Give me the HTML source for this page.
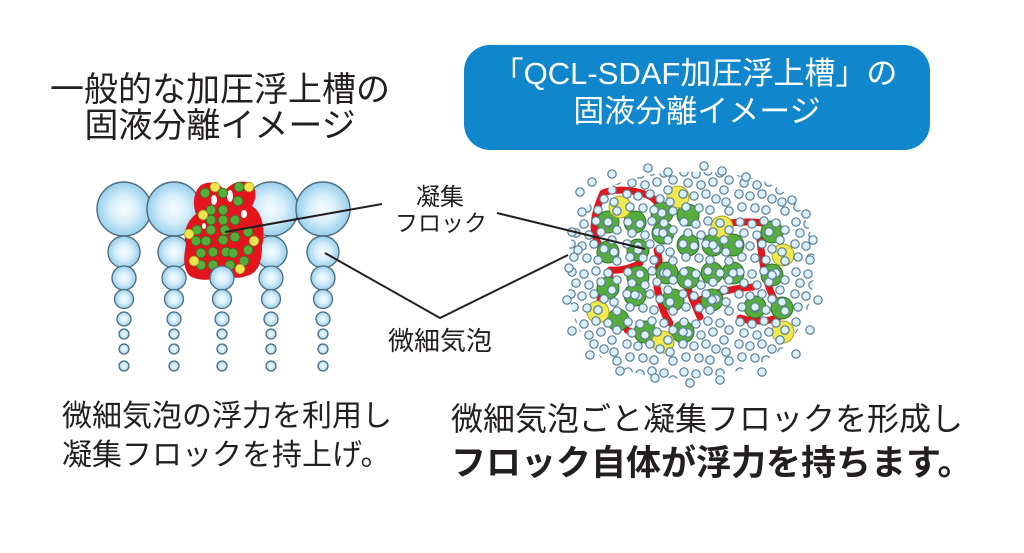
<!DOCTYPE html>
<html><head><meta charset="utf-8"><style>
html,body{margin:0;padding:0;background:#fff;}
svg{display:block;}
text{font-family:"Liberation Sans","Noto Sans CJK JP",sans-serif;}
</style></head><body>
<svg width="1024" height="553" viewBox="0 0 1024 553" xmlns="http://www.w3.org/2000/svg">
<defs>
<radialGradient id="bg" cx="0.5" cy="0.5" r="0.5">
<stop offset="0" stop-color="#f6fcff"/>
<stop offset="0.5" stop-color="#d6eefa"/>
<stop offset="1" stop-color="#97cfec"/>
</radialGradient>
<pattern id="pb" width="56" height="50" patternUnits="userSpaceOnUse" x="566" y="166">
<g fill="#dcf0fa" stroke="#5a7d92" stroke-width="1.2">
<circle cx="6" cy="6" r="4.2"/><circle cx="18" cy="8" r="4.2"/><circle cx="30" cy="5" r="4.2"/><circle cx="42" cy="7" r="4.2"/><circle cx="51" cy="14" r="4.2"/>
<circle cx="10" cy="17" r="4.2"/><circle cx="23" cy="19" r="4.2"/><circle cx="35" cy="16" r="4.2"/><circle cx="46" cy="24" r="4.2"/>
<circle cx="5" cy="28" r="4.2"/><circle cx="16" cy="30" r="4.2"/><circle cx="28" cy="28" r="4.2"/><circle cx="38" cy="33" r="4.2"/>
<circle cx="8" cy="41" r="4.2"/><circle cx="21" cy="42" r="4.2"/><circle cx="32" cy="44" r="4.2"/><circle cx="48" cy="36" r="4.2"/><circle cx="51" cy="45" r="4.2"/>
</g>
</pattern>
</defs>

<!-- Left title -->
<text x="220" y="101" font-size="34" text-anchor="middle" fill="#231f20">一般的な加圧浮上槽の</text>
<text x="220" y="137" font-size="34" text-anchor="middle" fill="#231f20">固液分離イメージ</text>

<!-- Blue box -->
<rect x="464" y="45" width="466" height="105" rx="26" ry="26" fill="#1087cd"/>
<text x="695" y="84" font-size="31" text-anchor="middle" fill="#fff">「QCL-SDAF加圧浮上槽」の</text>
<text x="697" y="122" font-size="31" text-anchor="middle" fill="#fff">固液分離イメージ</text>

<!-- Left bubble columns -->
<g fill="url(#bg)" stroke="#4e6c7f" stroke-width="1.4">
<circle cx="124" cy="209" r="27"/><circle cx="174" cy="209" r="27"/>
<circle cx="271" cy="209" r="27"/><circle cx="323" cy="209" r="27"/>
<circle cx="124" cy="252" r="16"/><circle cx="174" cy="252" r="16"/>
<circle cx="271" cy="252" r="16"/><circle cx="323" cy="252" r="16"/>
</g>

<!-- Left flock -->
<path d="M200,186 C207,180 222,182 224,192 C228,186 236,180 247,182 C256,184 258,196 252,206 C262,212 266,230 262,246 C262,262 258,274 246,276 C238,280 230,276 224,276 C214,280 200,282 190,276 C182,268 184,255 186,244 C182,232 188,220 196,214 C192,204 194,192 200,186 Z" fill="#e3141c"/>
<g fill="#fff">
<ellipse cx="214" cy="200" rx="3" ry="5"/><ellipse cx="230" cy="196" rx="3" ry="6"/><ellipse cx="244" cy="214" rx="3" ry="4"/><ellipse cx="204" cy="226" rx="2" ry="3"/>
</g>
<g fill="#56ad3c" stroke="#2f7424" stroke-width="0.8">
<circle cx="205" cy="193" r="4.8"/><circle cx="223" cy="193" r="4.8"/><circle cx="239" cy="187" r="4.8"/><circle cx="238" cy="201" r="4.8"/>
<circle cx="211" cy="210" r="4.8"/><circle cx="223" cy="210" r="4.8"/><circle cx="211" cy="220" r="4.8"/><circle cx="223" cy="220" r="4.8"/>
<circle cx="235" cy="220" r="4.8"/><circle cx="197" cy="230" r="4.8"/><circle cx="211" cy="230" r="4.8"/><circle cx="225" cy="230" r="4.8"/>
<circle cx="248" cy="232" r="4.8"/><circle cx="196" cy="241" r="4.8"/><circle cx="206" cy="241" r="4.8"/><circle cx="223" cy="240" r="4.8"/>
<circle cx="235" cy="237" r="4.8"/><circle cx="248" cy="250" r="4.8"/><circle cx="201" cy="253" r="4.8"/><circle cx="213" cy="252" r="4.8"/>
<circle cx="226" cy="252" r="4.8"/><circle cx="233" cy="253" r="4.8"/><circle cx="244" cy="261" r="4.8"/><circle cx="201" cy="265" r="4.8"/>
<circle cx="213" cy="265" r="4.8"/><circle cx="230" cy="265" r="4.8"/>
</g>
<g fill="#eee64c" stroke="#a9a230" stroke-width="0.8">
<circle cx="215" cy="187" r="4.8"/><circle cx="249" cy="187" r="4.8"/><circle cx="203" cy="215" r="4.8"/><circle cx="189" cy="234" r="4.8"/>
<circle cx="254" cy="241" r="4.8"/><circle cx="194" cy="261" r="4.8"/><circle cx="240" cy="269" r="4.8"/>
</g>

<!-- Small bubbles of columns -->
<g fill="url(#bg)" stroke="#4e6c7f" stroke-width="1.3">
<circle cx="124" cy="278" r="12"/><circle cx="174" cy="278" r="12"/><circle cx="222" cy="278" r="12"/><circle cx="271" cy="278" r="12"/><circle cx="323" cy="278" r="12"/>
<circle cx="124" cy="299" r="9.5"/><circle cx="174" cy="299" r="9.5"/><circle cx="222" cy="299" r="9.5"/><circle cx="271" cy="299" r="9.5"/><circle cx="323" cy="299" r="9.5"/>
<circle cx="124" cy="319" r="7"/><circle cx="174" cy="319" r="7"/><circle cx="222" cy="319" r="7"/><circle cx="271" cy="319" r="7"/><circle cx="323" cy="319" r="7"/>
<circle cx="124" cy="334" r="5"/><circle cx="174" cy="334" r="5"/><circle cx="222" cy="334" r="5"/><circle cx="271" cy="334" r="5"/><circle cx="323" cy="334" r="5"/>
<circle cx="124" cy="349" r="5"/><circle cx="174" cy="349" r="5"/><circle cx="222" cy="349" r="5"/><circle cx="271" cy="349" r="5"/><circle cx="323" cy="349" r="5"/>
<circle cx="124" cy="366" r="5"/><circle cx="174" cy="366" r="5"/><circle cx="222" cy="366" r="5"/><circle cx="271" cy="366" r="5"/><circle cx="323" cy="366" r="5"/>
</g>

<!-- Right cluster: red network -->
<g fill="none" stroke="#e3141c" stroke-width="7" stroke-linecap="round" stroke-linejoin="round">
<path d="M598,243 C592,232 593,215 603,193 C615,188 635,190 647,195 C655,198 658,203 660,210"/>
<path d="M657,250 C659,258 660,262 658,268"/>
<path d="M657,287 C660,300 662,312 670,323"/>
<path d="M727,223 C745,222 758,220 777,227"/>
<path d="M760,240 C762,260 765,280 773,297 C776,303 780,307 783,310"/>
<path d="M700,300 C710,295 725,289 753,287"/>
<path d="M610,270 C620,271 632,268 640,263"/>
<path d="M627,330 C638,335 650,338 660,340"/>
<path d="M687,287 C692,298 696,308 700,317"/>
<path d="M740,318 C752,322 765,322 778,318"/>
<path d="M600,300 C605,290 607,282 610,275"/>
</g>

<!-- Right cluster: green & yellow -->
<g fill="#55ae3c" stroke="#2f7424" stroke-width="1">
<circle cx="608" cy="222" r="11"/><circle cx="635" cy="222" r="11"/><circle cx="662" cy="213" r="11"/><circle cx="688" cy="215" r="11"/>
<circle cx="663" cy="233" r="11"/><circle cx="688" cy="245" r="11"/><circle cx="713" cy="245" r="11"/><circle cx="733" cy="245" r="11"/>
<circle cx="772" cy="232" r="11"/><circle cx="608" cy="252" r="11"/><circle cx="638" cy="250" r="11"/><circle cx="638" cy="277" r="11"/>
<circle cx="667" cy="273" r="11"/><circle cx="688" cy="278" r="11"/><circle cx="712" cy="273" r="11"/><circle cx="733" cy="273" r="11"/>
<circle cx="772" cy="275" r="11"/><circle cx="608" cy="288" r="11"/><circle cx="635" cy="295" r="11"/><circle cx="673" cy="300" r="11"/>
<circle cx="712" cy="300" r="11"/><circle cx="755" cy="307" r="11"/><circle cx="782" cy="308" r="11"/><circle cx="618" cy="320" r="11"/>
<circle cx="645" cy="332" r="11"/><circle cx="683" cy="332" r="11"/>
</g>
<g fill="#efe94e" stroke="#aaa330" stroke-width="1">
<circle cx="620" cy="207" r="11"/><circle cx="678" cy="197" r="11"/><circle cx="722" cy="227" r="11"/><circle cx="783" cy="255" r="11"/>
<circle cx="598" cy="312" r="11"/><circle cx="663" cy="342" r="11"/><circle cx="783" cy="332" r="11"/>
</g>

<!-- Right cluster: micro bubbles (pattern) -->
<path d="M600,195 C620,172 700,164 760,180 C800,192 818,230 814,275 C811,320 790,358 740,370 C700,383 640,383 605,360 C572,340 564,290 569,250 C573,225 585,205 600,195 Z" fill="url(#pb)"/>
<g fill="#dcf0fa" stroke="#5a7d92" stroke-width="1.2">
<circle cx="608" cy="222" r="4.2"/><circle cx="662" cy="213" r="4.2"/><circle cx="663" cy="233" r="4.2"/><circle cx="713" cy="245" r="4.2"/>
<circle cx="638" cy="250" r="4.2"/><circle cx="667" cy="273" r="4.2"/><circle cx="733" cy="273" r="4.2"/><circle cx="772" cy="275" r="4.2"/>
<circle cx="635" cy="295" r="4.2"/><circle cx="712" cy="300" r="4.2"/><circle cx="755" cy="307" r="4.2"/><circle cx="683" cy="332" r="4.2"/>
<circle cx="580" cy="192" r="4.2"/><circle cx="592" cy="182" r="4.2"/><circle cx="612" cy="174" r="4.2"/><circle cx="648" cy="168" r="4.2"/>
<circle cx="668" cy="172" r="4.2"/><circle cx="704" cy="166" r="4.2"/><circle cx="722" cy="171" r="4.2"/><circle cx="746" cy="177" r="4.2"/>
<circle cx="792" cy="200" r="4.2"/><circle cx="806" cy="214" r="4.2"/><circle cx="813" cy="240" r="4.2"/><circle cx="818" cy="300" r="4.2"/>
<circle cx="810" cy="330" r="4.2"/><circle cx="796" cy="354" r="4.2"/><circle cx="762" cy="372" r="4.2"/><circle cx="720" cy="380" r="4.2"/>
<circle cx="690" cy="383" r="4.2"/><circle cx="655" cy="378" r="4.2"/><circle cx="620" cy="371" r="4.2"/><circle cx="590" cy="355" r="4.2"/>
<circle cx="572" cy="331" r="4.2"/><circle cx="567" cy="300" r="4.2"/><circle cx="569" cy="268" r="4.2"/><circle cx="572" cy="232" r="4.2"/>
<circle cx="582" cy="212" r="4.2"/><circle cx="578" cy="250" r="4.2"/><circle cx="810" cy="260" r="4.2"/>
</g>

<!-- Connector lines -->
<g fill="none" stroke="#231f20" stroke-width="2">
<line x1="225" y1="232" x2="382" y2="204"/>
<line x1="497" y1="213" x2="645" y2="249"/>
<polyline points="325,253 440,318 568,255"/>
</g>

<!-- Labels -->
<text x="440" y="205" font-size="24" text-anchor="middle" fill="#231f20">凝集</text>
<text x="441" y="231" font-size="23" text-anchor="middle" fill="#231f20">フロック</text>
<text x="440" y="350" font-size="26" text-anchor="middle" fill="#231f20">微細気泡</text>

<!-- Bottom texts -->
<text x="62" y="426" font-size="30" fill="#231f20">微細気泡の浮力を利用し</text>
<text x="62" y="465" font-size="30" fill="#231f20">凝集フロックを持上げ。</text>
<text x="451" y="430" font-size="32" fill="#231f20">微細気泡ごと凝集フロックを形成し</text>
<text x="451" y="475" font-size="35" font-weight="bold" fill="#231f20">フロック自体が浮力を持ちます。</text>
</svg>
</body></html>
